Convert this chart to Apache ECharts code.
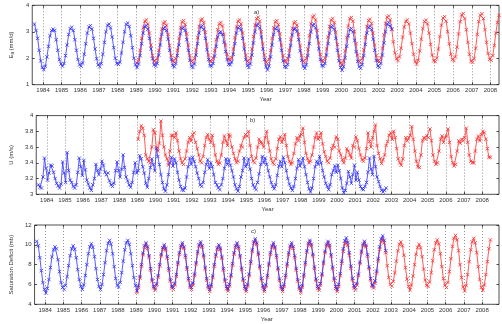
<!DOCTYPE html>
<html>
<head>
<meta charset="utf-8">
<script src="https://cdn.jsdelivr.net/npm/echarts@6/dist/echarts.min.js"></script>
<style>
html, body { margin: 0; padding: 0; background: #fff; }
#chart { width: 502px; height: 324px; }
</style>
</head>
<body>
<div id="chart"></div>
<script>
// year tick labels
const years = [1984, 1985, 1986, 1987, 1988, 1989, 1990, 1991, 1992, 1993, 1994, 1995, 1996,
  1997, 1998, 1999, 2000, 2001, 2002, 2003, 2004, 2005, 2006, 2007, 2008]

// monthly series; blue starts Jul 1983, red starts Jan 1989
const blueStart = [1983, 7]
const redStart = [1989, 1]

const eaBlue = [
  3.29, 3.05, 2.75, 2.3, 1.9, 1.65,
  1.57, 1.7, 2.05, 2.45, 2.85, 3.05, 3.1, 3.05, 2.7, 2.3, 1.95, 1.78,
  1.7, 1.8, 2.1, 2.5, 2.9, 3.12, 3.17, 3.05, 2.7, 2.3, 1.95, 1.75,
  1.7, 1.82, 2.15, 2.55, 2.95, 3.18, 3.23, 3.1, 2.75, 2.35, 1.98, 1.75,
  1.68, 1.8, 2.15, 2.6, 3.0, 3.25, 3.29, 3.15, 2.8, 2.4, 2.0, 1.8,
  1.77, 1.85, 2.2, 2.6, 3.0, 3.28, 3.33, 3.2, 2.85, 2.4, 2.0, 1.75,
  1.65, 1.78, 2.1, 2.55, 2.95, 3.2, 3.23, 3.1, 2.75, 2.35, 1.98, 1.75,
  1.7, 1.8, 2.12, 2.5, 2.9, 3.12, 3.17, 3.05, 2.72, 2.3, 1.95, 1.72,
  1.68, 1.8, 2.1, 2.5, 2.92, 3.13, 3.17, 3.05, 2.7, 2.3, 1.92, 1.7,
  1.65, 1.78, 2.12, 2.55, 2.95, 3.18, 3.23, 3.1, 2.75, 2.32, 1.95, 1.72,
  1.7, 1.8, 2.08, 2.45, 2.8, 2.97, 3.0, 2.9, 2.6, 2.25, 1.95, 1.77,
  1.75, 1.85, 2.15, 2.55, 2.95, 3.15, 3.2, 3.08, 2.75, 2.35, 1.95, 1.72,
  1.65, 1.78, 2.12, 2.58, 3.0, 3.25, 3.29, 3.15, 2.8, 2.35, 1.95, 1.68,
  1.56, 1.7, 2.05, 2.5, 2.9, 3.12, 3.17, 3.05, 2.7, 2.3, 1.9, 1.68,
  1.65, 1.76, 2.08, 2.48, 2.88, 3.1, 3.13, 3.02, 2.7, 2.28, 1.92, 1.7,
  1.62, 1.75, 2.1, 2.55, 3.0, 3.25, 3.29, 3.15, 2.8, 2.35, 1.95, 1.72,
  1.7, 1.8, 2.12, 2.55, 2.95, 3.18, 3.23, 3.1, 2.75, 2.3, 1.9, 1.65,
  1.55, 1.68, 2.02, 2.45, 2.85, 3.08, 3.13, 3.0, 2.68, 2.25, 1.88, 1.68,
  1.62, 1.75, 2.1, 2.52, 2.95, 3.17, 3.21, 3.08, 2.72, 2.3, 1.92, 1.7,
  1.66, 1.8, 2.12, 2.58, 3.0, 3.28, 3.35, 3.22, 3.1
]
const eaRed = [
  1.82, 1.95, 2.3, 2.75, 3.15, 3.4, 3.45, 3.3, 2.95, 2.5, 2.1, 1.9,
  1.85, 1.98, 2.3, 2.72, 3.1, 3.33, 3.38, 3.25, 2.9, 2.48, 2.1, 1.9,
  1.85, 1.98, 2.3, 2.75, 3.15, 3.38, 3.42, 3.28, 2.92, 2.5, 2.1, 1.88,
  1.84, 1.98, 2.32, 2.78, 3.2, 3.44, 3.48, 3.35, 2.98, 2.52, 2.12, 1.9,
  1.88, 2.0, 2.3, 2.7, 3.08, 3.3, 3.35, 3.22, 2.9, 2.5, 2.15, 1.95,
  1.92, 2.02, 2.35, 2.78, 3.18, 3.4, 3.45, 3.3, 2.95, 2.52, 2.12, 1.88,
  1.84, 1.98, 2.35, 2.82, 3.25, 3.5, 3.55, 3.4, 3.0, 2.55, 2.12, 1.85,
  1.8, 1.95, 2.3, 2.75, 3.15, 3.38, 3.42, 3.28, 2.92, 2.5, 2.1, 1.88,
  1.86, 1.98, 2.3, 2.72, 3.12, 3.34, 3.38, 3.25, 2.9, 2.48, 2.1, 1.88,
  1.84, 1.98, 2.35, 2.85, 3.3, 3.56, 3.61, 3.45, 3.05, 2.58, 2.15, 1.9,
  1.88, 2.0, 2.35, 2.8, 3.2, 3.45, 3.5, 3.35, 2.98, 2.52, 2.1, 1.82,
  1.74, 1.9, 2.28, 2.78, 3.22, 3.5, 3.54, 3.4, 3.0, 2.55, 2.12, 1.88,
  1.83, 1.98, 2.32, 2.78, 3.2, 3.43, 3.47, 3.32, 2.95, 2.5, 2.1, 1.9,
  1.87, 2.0, 2.38, 2.88, 3.32, 3.55, 3.6, 3.45, 3.08, 2.62, 2.2, 1.98,
  1.91, 2.05, 2.38, 2.8, 3.18, 3.4, 3.45, 3.3, 2.95, 2.55, 2.15, 1.88,
  1.78, 1.92, 2.28, 2.72, 3.12, 3.39, 3.44, 3.3, 2.95, 2.52, 2.12, 1.9,
  1.87, 2.0, 2.35, 2.82, 3.25, 3.52, 3.57, 3.4, 3.0, 2.55, 2.15, 1.95,
  1.91, 2.05, 2.42, 2.92, 3.38, 3.64, 3.69, 3.5, 3.08, 2.6, 2.15, 1.88,
  1.85, 1.98, 2.38, 2.9, 3.38, 3.63, 3.68, 3.5, 3.08, 2.6, 2.18, 1.96,
  1.92, 2.1, 2.48, 2.95, 3.35, 3.62
]

const uBlue = [
  3.12, 3.09, 3.08, 3.22, 3.46, 3.33,
  3.18, 3.27, 3.37, 3.36, 3.28, 3.20, 3.14, 3.11, 3.08, 3.13, 3.41, 3.27,
  3.15, 3.53, 3.30, 3.18, 3.15, 3.10, 3.08, 3.12, 3.28, 3.46, 3.35, 3.24,
  3.43, 3.31, 3.18, 3.13, 3.08, 3.05, 3.12, 3.20, 3.38, 3.30, 3.25, 3.32,
  3.42, 3.37, 3.28, 3.25, 3.27, 3.17, 3.12, 3.10, 3.14, 3.30, 3.41, 3.30,
  3.22, 3.32, 3.50, 3.34, 3.22, 3.17, 3.12, 3.09, 3.15, 3.28, 3.40, 3.27,
  3.30, 3.49, 3.45, 3.35, 3.27, 3.14, 3.09, 3.20, 3.34, 3.45, 3.38, 3.30,
  3.58, 3.48, 3.38, 3.25, 3.15, 3.07, 3.04, 3.12, 3.25, 3.40, 3.47, 3.36,
  3.45, 3.40, 3.28, 3.18, 3.10, 3.06, 3.05, 3.08, 3.22, 3.35, 3.46, 3.38,
  3.47, 3.42, 3.35, 3.27, 3.20, 3.12, 3.10, 3.15, 3.28, 3.38, 3.44, 3.33,
  3.40, 3.35, 3.25, 3.15, 3.12, 3.08, 3.06, 3.12, 3.20, 3.33, 3.45, 3.38,
  3.44, 3.37, 3.30, 3.22, 3.12, 3.07, 3.04, 3.10, 3.22, 3.30, 3.46, 3.35,
  3.38, 3.45, 3.32, 3.20, 3.12, 3.08, 3.06, 3.15, 3.26, 3.38, 3.48, 3.40,
  3.46, 3.38, 3.30, 3.22, 3.15, 3.10, 3.07, 3.12, 3.24, 3.36, 3.42, 3.35,
  3.47, 3.40, 3.30, 3.20, 3.13, 3.08, 3.05, 3.10, 3.20, 3.33, 3.44, 3.36,
  3.40, 3.46, 3.35, 3.25, 3.15, 3.07, 3.03, 3.08, 3.20, 3.35, 3.42, 3.38,
  3.48, 3.40, 3.30, 3.22, 3.14, 3.10, 3.06, 3.12, 3.25, 3.30, 3.36, 3.28,
  3.37, 3.30, 3.20, 3.08, 3.02, 3.05, 3.14, 3.29, 3.22, 3.14, 3.25, 3.37,
  3.18, 3.28, 3.18, 3.10, 3.07, 3.06, 3.10, 3.15, 3.28, 3.46, 3.32, 3.25,
  3.48, 3.35, 3.22, 3.16, 3.10, 3.05, 3.03, 3.05, 3.08
]
const uRed = [
  3.70, 3.80, 3.87, 3.84, 3.75, 3.50, 3.45, 3.42, 3.40, 3.60, 3.82, 3.78,
  3.60, 3.55, 3.65, 3.93, 3.75, 3.60, 3.50, 3.45, 3.37, 3.55, 3.75, 3.75,
  3.72, 3.78, 3.68, 3.55, 3.45, 3.40, 3.38, 3.45, 3.55, 3.66, 3.72, 3.68,
  3.76, 3.78, 3.66, 3.58, 3.50, 3.42, 3.40, 3.48, 3.62, 3.72, 3.76, 3.70,
  3.66, 3.75, 3.62, 3.50, 3.42, 3.38, 3.40, 3.50, 3.66, 3.74, 3.68, 3.62,
  3.76, 3.74, 3.60, 3.52, 3.45, 3.40, 3.42, 3.55, 3.62, 3.60, 3.72, 3.76,
  3.74, 3.80, 3.62, 3.48, 3.42, 3.40, 3.46, 3.60, 3.70, 3.66, 3.65, 3.60,
  3.72, 3.80, 3.66, 3.55, 3.45, 3.40, 3.38, 3.45, 3.58, 3.70, 3.73, 3.66,
  3.70, 3.76, 3.62, 3.48, 3.42, 3.38, 3.40, 3.52, 3.64, 3.72, 3.68, 3.74,
  3.76, 3.84, 3.66, 3.52, 3.45, 3.40, 3.42, 3.50, 3.60, 3.72, 3.78, 3.70,
  3.72, 3.78, 3.64, 3.54, 3.48, 3.42, 3.40, 3.46, 3.58, 3.62, 3.60, 3.73,
  3.70, 3.55, 3.50, 3.44, 3.40, 3.46, 3.58, 3.55, 3.50, 3.46, 3.62, 3.60,
  3.73, 3.68, 3.58, 3.50, 3.44, 3.42, 3.46, 3.58, 3.78, 3.67, 3.60, 3.72,
  3.80, 3.88, 3.62, 3.52, 3.45, 3.39, 3.44, 3.50, 3.62, 3.67, 3.75, 3.78,
  3.70, 3.80, 3.72, 3.58, 3.45, 3.40, 3.37, 3.45, 3.62, 3.72, 3.68, 3.72,
  3.75, 3.86, 3.70, 3.55, 3.42, 3.35, 3.34, 3.50, 3.68, 3.72, 3.70, 3.74,
  3.72, 3.83, 3.68, 3.50, 3.42, 3.38, 3.40, 3.55, 3.70, 3.74, 3.66, 3.72,
  3.74, 3.83, 3.66, 3.48, 3.40, 3.36, 3.38, 3.55, 3.68, 3.65, 3.70, 3.68,
  3.72, 3.84, 3.66, 3.50, 3.42, 3.40, 3.40, 3.55, 3.70, 3.74, 3.68, 3.76,
  3.80, 3.78, 3.70, 3.58, 3.47, 3.47
]

const sdBlue = [
  10.35, 9.9, 8.7, 7.4, 6.2, 5.5,
  5.15, 5.6, 6.5, 7.7, 8.8, 9.5, 9.8, 9.6, 8.5, 7.3, 6.2, 5.7,
  5.5, 5.9, 6.8, 7.9, 8.9, 9.6, 9.9, 9.55, 8.7, 7.5, 6.5, 5.8,
  5.5, 5.95, 6.9, 8.0, 9.1, 9.8, 10.1, 9.75, 8.8, 7.6, 6.5, 5.8,
  5.5, 6.0, 7.0, 8.2, 9.4, 10.15, 10.45, 10.05, 9.1, 7.8, 6.6, 5.9,
  5.75, 6.2, 7.2, 8.35, 9.5, 10.2, 10.45, 10.05, 9.1, 7.9, 6.7, 5.9,
  5.35, 5.85, 6.8, 8.0, 9.15, 9.9, 10.2, 9.8, 8.9, 7.6, 6.5, 5.8,
  5.6, 6.05, 6.9, 8.0, 9.05, 9.7, 10.0, 9.65, 8.8, 7.6, 6.5, 5.8,
  5.7, 6.1, 7.0, 8.2, 9.2, 9.9, 10.2, 9.8, 8.9, 7.7, 6.6, 5.9,
  5.7, 6.15, 7.05, 8.2, 9.3, 10.0, 10.3, 9.9, 8.95, 7.7, 6.6, 5.85,
  5.5, 5.95, 6.85, 8.0, 9.0, 9.7, 10.0, 9.65, 8.8, 7.6, 6.5, 5.8,
  5.55, 6.0, 6.95, 8.1, 9.2, 9.9, 10.2, 9.8, 8.9, 7.65, 6.55, 5.8,
  5.5, 6.0, 7.05, 8.3, 9.5, 10.3, 10.6, 10.2, 9.15, 7.85, 6.6, 5.85,
  5.5, 5.95, 6.9, 8.1, 9.2, 9.9, 10.2, 9.8, 8.9, 7.65, 6.55, 5.8,
  5.5, 5.98, 6.92, 8.08, 9.18, 9.88, 10.2, 9.82, 8.88, 7.62, 6.5, 5.75,
  5.4, 5.9, 6.95, 8.2, 9.4, 10.15, 10.45, 10.05, 9.05, 7.75, 6.55, 5.8,
  5.65, 6.1, 7.05, 8.25, 9.35, 10.05, 10.35, 9.95, 9.0, 7.75, 6.6, 5.8,
  5.5, 6.0, 7.1, 8.35, 9.6, 10.4, 10.7, 10.25, 9.2, 7.85, 6.6, 5.85,
  5.67, 6.1, 7.05, 8.25, 9.35, 10.05, 10.35, 9.95, 9.0, 7.75, 6.6, 5.95,
  5.84, 6.35, 7.35, 8.6, 9.8, 10.6, 10.9, 10.45, 9.4
]
const sdRed = [
  5.2, 5.7, 6.65, 7.85, 9.0, 9.75, 10.05, 9.65, 8.75, 7.45, 6.35, 5.65,
  5.45, 5.9, 6.75, 7.85, 8.9, 9.55, 9.85, 9.5, 8.65, 7.45, 6.35, 5.65,
  5.5, 5.95, 6.85, 8.05, 9.05, 9.75, 10.05, 9.65, 8.75, 7.55, 6.45, 5.7,
  5.5, 5.95, 6.9, 8.05, 9.15, 9.85, 10.15, 9.75, 8.8, 7.55, 6.45, 5.65,
  5.3, 5.8, 6.7, 7.85, 8.85, 9.55, 9.85, 9.5, 8.65, 7.45, 6.35, 5.6,
  5.35, 5.85, 6.8, 7.95, 9.05, 9.75, 10.05, 9.65, 8.75, 7.5, 6.4, 5.6,
  5.3, 5.85, 6.9, 8.15, 9.35, 10.15, 10.45, 10.05, 9.0, 7.7, 6.45, 5.65,
  5.3, 5.8, 6.75, 7.95, 9.05, 9.75, 10.05, 9.65, 8.75, 7.5, 6.4, 5.6,
  5.3, 5.8, 6.75, 7.9, 9.0, 9.7, 10.0, 9.65, 8.7, 7.45, 6.35, 5.55,
  5.2, 5.75, 6.8, 8.05, 9.25, 10.0, 10.3, 9.9, 8.9, 7.6, 6.4, 5.6,
  5.45, 5.95, 6.9, 8.1, 9.2, 9.9, 10.2, 9.8, 8.85, 7.6, 6.45, 5.6,
  5.3, 5.8, 6.9, 8.15, 9.35, 10.1, 10.35, 9.95, 8.95, 7.65, 6.45, 5.65,
  5.45, 5.95, 6.9, 8.1, 9.2, 9.9, 10.2, 9.8, 8.85, 7.6, 6.45, 5.8,
  5.65, 6.15, 7.15, 8.4, 9.55, 10.3, 10.6, 10.2, 9.2, 7.9, 6.7, 6.0,
  5.84, 6.3, 7.2, 8.35, 9.4, 10.05, 10.3, 9.9, 8.95, 7.7, 6.55, 5.8,
  5.45, 5.95, 6.85, 8.0, 9.05, 9.75, 10.05, 9.7, 8.8, 7.55, 6.45, 5.9,
  5.8, 6.25, 7.2, 8.4, 9.5, 10.2, 10.5, 10.1, 9.1, 7.8, 6.6, 5.9,
  5.7, 6.2, 7.3, 8.6, 9.85, 10.65, 10.95, 10.5, 9.4, 8.0, 6.7, 5.75,
  5.35, 5.9, 7.0, 8.3, 9.5, 10.3, 10.65, 10.2, 9.2, 7.8, 6.5, 5.7,
  5.42, 5.95, 7.0, 8.3, 9.6, 10.5
]

const BLUE = '#2e2eff'
const RED = '#ff2e2e'
const FONT = 'Liberation Sans, Arial, sans-serif'

// [year, month] start + month index -> decimal year at mid-month
const toPairs = (start, vals) =>
  vals.map((v, i) => [start[0] + (start[1] - 1 + i + 0.5) / 12, v])

const panels = [
  { top: 5.3, height: 79.4, xmax: 2008.46, ymin: 1, ymax: 4, step: 1,
    name: '{n|E}{sub|a}{n| (mm/d)}', tag: 'a)', tagX: 254, tagY: 9,
    blue: eaBlue, red: eaRed },
  { top: 115.6, height: 78.7, xmax: 2008.93, ymin: 3, ymax: 4, step: 0.2,
    name: 'U (m/s)', tag: 'b)', tagX: 250, tagY: 117,
    blue: uBlue, red: uRed },
  { top: 225, height: 79.3, xmax: 2008.93, ymin: 4, ymax: 12, step: 2,
    name: 'Saturation Deficit (mb)', tag: 'c)', tagX: 251, tagY: 228,
    blue: sdBlue, red: sdRed }
]

const xSymbol = 'path://M0,0L10,10M10,0L0,10'

const grid = [], xAxis = [], yAxis = [], series = [], graphic = []

panels.forEach((p, k) => {
  grid.push({ left: 27, right: 3, top: p.top, height: p.height,
    show: true, borderColor: '#222', borderWidth: 0.8, backgroundColor: '#fff' })

  // bottom axis with year labels and dotted year grid
  xAxis.push({
    type: 'value', gridIndex: k, min: 1983.42, max: p.xmax,
    name: 'Year', nameLocation: 'middle', nameGap: 12,
    nameTextStyle: { fontSize: 6, color: '#333', fontFamily: FONT },
    axisLine: { show: false },
    axisTick: { inside: true, length: 2.5, customValues: years,
      lineStyle: { color: '#222', width: 0.8 } },
    axisLabel: { customValues: years, fontSize: 6, color: '#333', margin: 3,
      fontFamily: FONT, formatter: v => String(Math.round(v)) },
    splitLine: { show: true, lineStyle: { color: '#777', width: 0.8, type: [1, 2] } }
  })
  // top axis, ticks only
  xAxis.push({
    type: 'value', gridIndex: k, position: 'top', min: 1983.42, max: p.xmax,
    axisLine: { show: false }, axisLabel: { show: false }, splitLine: { show: false },
    axisTick: { inside: true, length: 2.5, customValues: years,
      lineStyle: { color: '#222', width: 0.8 } }
  })

  yAxis.push({
    type: 'value', gridIndex: k, min: p.ymin, max: p.ymax, interval: p.step,
    name: p.name, nameLocation: 'middle', nameGap: 14,
    nameTextStyle: { fontSize: 6, color: '#333', fontFamily: FONT,
      rich: { n: { fontSize: 6, color: '#333', fontFamily: FONT },
        sub: { fontSize: 4.5, color: '#333', fontFamily: FONT, padding: [3, 0, 0, 0] } } },
    axisLine: { show: false },
    axisTick: { inside: true, length: 2.5, lineStyle: { color: '#222', width: 0.8 } },
    axisLabel: { fontSize: 6, color: '#333', margin: 3, fontFamily: FONT },
    splitLine: { show: false }
  })
  yAxis.push({
    type: 'value', gridIndex: k, position: 'right', min: p.ymin, max: p.ymax,
    interval: p.step,
    axisLine: { show: false }, axisLabel: { show: false }, splitLine: { show: false },
    axisTick: { inside: true, length: 2.5, lineStyle: { color: '#222', width: 0.8 } }
  })

  const mk = (vals, start, color) => ({
    type: 'line', xAxisIndex: 2 * k, yAxisIndex: 2 * k,
    data: toPairs(start, vals),
    color: color,
    symbol: xSymbol, symbolSize: 3.4, showSymbol: true,
    lineStyle: { color: color, width: 0.8 },
    itemStyle: { color: color, borderColor: color, borderWidth: 0.8 },
    emphasis: { disabled: true },
    animation: false, silent: true
  })
  series.push(mk(p.red, redStart, RED))
  series.push(mk(p.blue, blueStart, BLUE))

  graphic.push({ type: 'text', left: p.tagX, top: p.tagY, z: 100,
    style: { text: p.tag, fontSize: 6, fill: '#333', fontFamily: FONT } })
})

const chart = echarts.init(document.getElementById('chart'), null, { renderer: 'canvas' })
chart.setOption({
  animation: false,
  backgroundColor: '#fff',
  grid, xAxis, yAxis, series, graphic
})
</script>
</body>
</html>
